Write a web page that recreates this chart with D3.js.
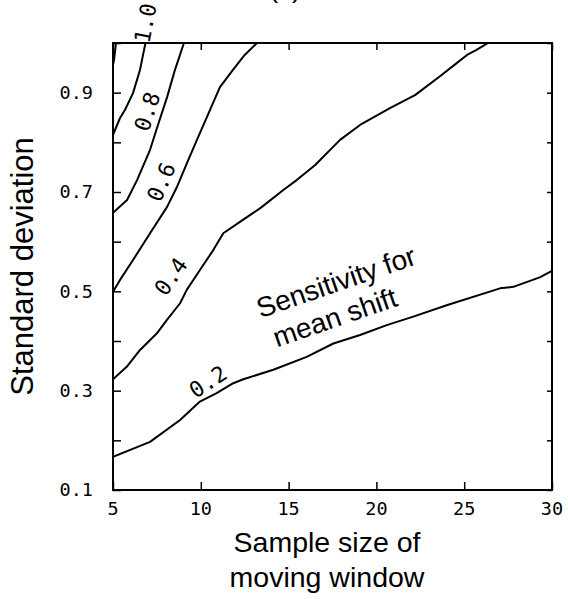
<!DOCTYPE html>
<html>
<head>
<meta charset="utf-8">
<script src="https://cdn.jsdelivr.net/npm/d3@7"></script>
<style>
  body { margin: 0; background: #fff; }
  svg { display: block; }
</style>
</head>
<body>
<script>
const svgWidth = 568
const svgHeight = 599

const margin = { top: 43, right: 16, bottom: 109, left: 113 }
const chartWidth = svgWidth - margin.left - margin.right
const chartHeight = svgHeight - margin.top - margin.bottom

// axis ticks
const sampleSizeTicks = [5, 10, 15, 20, 25, 30]
const sdTicks = [0.1, 0.2, 0.3, 0.4, 0.5, 0.6, 0.7, 0.8, 0.9, 1.0]
const sdTickLabels = [0.1, 0.3, 0.5, 0.7, 0.9]

// contour lines, [sample size, standard deviation]
const contour02 = [[5, 0.167], [7.11, 0.197], [8.82, 0.241], [9.95, 0.278], [10.9, 0.295],
  [11.85, 0.315], [12.42, 0.323], [14.13, 0.342], [16.03, 0.368], [17.55, 0.395],
  [19.07, 0.412], [20.59, 0.432], [22.1, 0.449], [24.0, 0.472], [27.04, 0.506],
  [27.8, 0.509], [29.3, 0.528], [30, 0.541]]
const contour04 = [[5, 0.323], [5.78, 0.348], [6.54, 0.382], [7.49, 0.415], [8.06, 0.442],
  [8.82, 0.476], [9.2, 0.503], [9.95, 0.543], [10.71, 0.583], [11.28, 0.617],
  [12.23, 0.640], [13.37, 0.667], [14.7, 0.704], [15.46, 0.724], [16.5, 0.754],
  [17.93, 0.805], [19.07, 0.835], [20.77, 0.869], [22.2, 0.895], [23.62, 0.933],
  [24.59, 0.96], [25.16, 0.976], [25.7, 0.986], [26.36, 1.0]]
const contour06 = [[5, 0.499], [5.4, 0.523], [6.14, 0.563], [7.11, 0.617], [8.08, 0.670],
  [8.64, 0.710], [9.21, 0.758], [9.78, 0.805], [10.52, 0.865], [11.09, 0.911],
  [11.83, 0.946], [12.5, 0.976], [13.2, 1.0]]
const contour08 = [[5, 0.658], [5.8, 0.684], [6.37, 0.724], [7.11, 0.785], [7.56, 0.835],
  [8.08, 0.891], [8.53, 0.946], [9.04, 1.0]]
const contour10 = [[5, 0.815], [5.4, 0.849], [5.68, 0.865], [6.14, 0.899], [6.54, 0.946],
  [6.71, 0.976], [6.85, 1.0]]
const contour12 = [[5, 0.956], [5.06, 0.966], [5.17, 1.0]]

const contours = [contour02, contour04, contour06, contour08, contour10, contour12]

// contour labels
const labelText = ["0.2", "0.4", "0.6", "0.8", "1.0"]
const labelSampleSize = [10.41, 8.3, 7.75, 6.95, 6.85]
const labelSd = [0.318, 0.53, 0.72, 0.862, 1.04]
const labelAngle = [-33, -55, -67, -72, -79]

const svg = d3.select("body").append("svg")
  .attr("width", svgWidth)
  .attr("height", svgHeight)

const chartG = svg.append("g")
  .attr("transform", `translate(${margin.left}, ${margin.top})`)

const x = d3.scaleLinear().domain([5, 30]).range([0, chartWidth])
const y = d3.scaleLinear().domain([0.1, 1.0]).range([chartHeight, 0])

const monoFont = "DejaVu Sans Mono, monospace"
const sansFont = "Liberation Sans, Arial, sans-serif"

svg.append("defs").append("clipPath").attr("id", "plotClip")
  .append("rect").attr("width", chartWidth).attr("height", chartHeight)

// ticks, all pointing inward
chartG.append("g")
  .call(d3.axisBottom(x).tickValues(sampleSizeTicks).tickSize(-8).tickFormat(""))
  .attr("transform", `translate(0, ${chartHeight})`)
chartG.append("g")
  .call(d3.axisTop(x).tickValues(sampleSizeTicks).tickSize(-7).tickFormat(""))
chartG.append("g")
  .call(d3.axisLeft(y).tickValues(sdTicks).tickSize(-8).tickFormat(""))
chartG.append("g")
  .attr("transform", `translate(${chartWidth}, 0)`)
  .call(d3.axisRight(y).tickValues(sdTicks).tickSize(-5).tickFormat(""))

chartG.selectAll(".domain").remove()
chartG.selectAll(".tick line").attr("stroke", "#000").attr("stroke-width", 1.5)

chartG.append("rect")
  .attr("width", chartWidth)
  .attr("height", chartHeight)
  .attr("fill", "none")
  .attr("stroke", "#000")
  .attr("stroke-width", 2)

// tick labels
chartG.selectAll(".xlab")
  .data(sampleSizeTicks)
  .enter()
  .append("text")
  .attr("x", d => x(d))
  .attr("y", chartHeight + 25)
  .attr("text-anchor", "middle")
  .attr("font-family", monoFont)
  .attr("font-size", 18.5)
  .text(d => d)

chartG.selectAll(".ylab")
  .data(sdTickLabels)
  .enter()
  .append("text")
  .attr("x", -20)
  .attr("y", d => y(d))
  .attr("dy", "0.35em")
  .attr("text-anchor", "end")
  .attr("font-family", monoFont)
  .attr("font-size", 18.5)
  .text(d => d3.format(".1f")(d))

// contour lines
const line = d3.line()
  .x(d => x(d[0]))
  .y(d => y(d[1]))

chartG.append("g")
  .attr("clip-path", "url(#plotClip)")
  .selectAll("path")
  .data(contours)
  .enter()
  .append("path")
  .attr("d", line)
  .attr("fill", "none")
  .attr("stroke", "#000")
  .attr("stroke-width", 2)
  .attr("stroke-linejoin", "round")

chartG.selectAll(".clab")
  .data(labelText)
  .enter()
  .append("text")
  .attr("transform", (d, i) =>
    `translate(${x(labelSampleSize[i])}, ${y(labelSd[i])}) rotate(${labelAngle[i]})`)
  .attr("text-anchor", "middle")
  .attr("dy", "0.35em")
  .attr("font-family", monoFont)
  .attr("font-size", 22)
  .text(d => d)

// annotation
const note = chartG.append("text")
  .attr("transform", `translate(${x(13.4)}, ${y(0.446)}) rotate(-19)`)
  .attr("font-family", sansFont)
  .attr("font-size", 28)
note.append("tspan").attr("x", 0).attr("dy", 0).text("Sensitivity for")
note.append("tspan").attr("x", 6).attr("dy", 33).text("mean shift")

// axis titles
svg.append("text")
  .attr("transform", `translate(33, ${margin.top + chartHeight / 2}) rotate(-90)`)
  .attr("text-anchor", "middle")
  .attr("font-family", sansFont)
  .attr("font-size", 31)
  .text("Standard deviation")

const xTitle = svg.append("text")
  .attr("text-anchor", "middle")
  .attr("font-family", sansFont)
  .attr("font-size", 28.5)
xTitle.append("tspan").attr("x", 327).attr("y", 552).text("Sample size of")
xTitle.append("tspan").attr("x", 327).attr("y", 587).text("moving window")

svg.append("text")
  .attr("x", 285)
  .attr("y", -3)
  .attr("text-anchor", "middle")
  .attr("font-family", sansFont)
  .attr("font-size", 28)
  .text("(c)")
</script>
</body>
</html>
